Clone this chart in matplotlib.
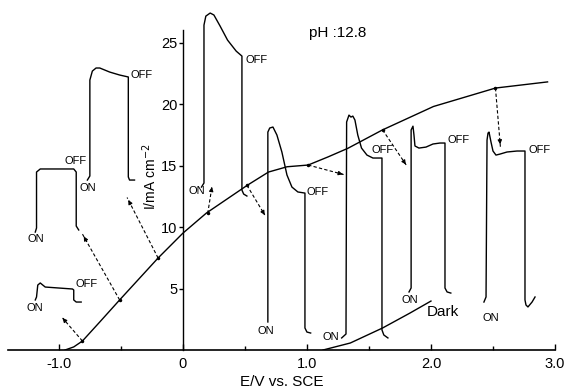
import matplotlib
matplotlib.use('Agg')
import matplotlib.pyplot as plt
import numpy as np

plt.rcParams['font.family'] = ['Liberation Sans', 'DejaVu Sans']
plt.rcParams['axes.unicode_minus'] = False

# photocurrent curve (under illumination) and dark current
curve_x = [-0.95, -0.88, -0.81, -0.67, -0.51, -0.2, 0.0, 0.19, 0.52, 0.69, 0.84, 1.01, 1.17, 1.33, 1.61, 2.02, 2.52, 2.94]
curve_y = [0.0, 0.25, 0.73, 2.28, 4.07, 7.48, 9.5, 11.14, 13.4, 14.47, 14.9, 15.04, 15.7, 16.4, 17.9, 19.8, 21.3, 21.8]
dark_x = [1.13, 1.35, 1.61, 1.83, 2.0]
dark_y = [0.0, 0.57, 1.79, 3.0, 3.98]

# ON/OFF transients (sketched at their positions)
trace_a_x = [-1.19, -1.18, -1.17, -1.15, -1.11, -0.89, -0.88, -0.88, -0.86, -0.82]
trace_a_y = [4.07, 4.31, 5.28, 5.45, 5.12, 4.96, 4.88, 4.07, 3.90, 3.90]
trace_b_x = [-1.19, -1.18, -1.18, -1.15, -0.88, -0.86, -0.86, -0.84]
trace_b_y = [9.59, 9.92, 14.47, 14.72, 14.72, 14.47, 10.08, 9.76]
trace_c_x = [-0.77, -0.75, -0.75, -0.73, -0.70, -0.67, -0.59, -0.51, -0.44, -0.44, -0.43, -0.39]
trace_c_y = [13.82, 14.15, 21.95, 22.68, 22.93, 22.93, 22.60, 22.36, 22.20, 14.07, 13.82, 13.82]
trace_d_x = [0.15, 0.17, 0.17, 0.185, 0.22, 0.25, 0.30, 0.36, 0.43, 0.476, 0.476, 0.49, 0.516]
trace_d_y = [13.25, 13.58, 26.42, 27.15, 27.40, 27.24, 26.34, 25.20, 24.30, 23.90, 13.00, 12.68, 12.52]
trace_e_x = [0.685, 0.685, 0.70, 0.726, 0.758, 0.798, 0.839, 0.879, 0.927, 0.984, 0.984, 1.0, 1.03]
trace_e_y = [2.28, 17.72, 18.05, 18.13, 17.48, 16.10, 14.23, 13.25, 12.85, 12.76, 1.79, 1.46, 1.38]
trace_f_x = [1.28, 1.315, 1.32, 1.339, 1.355, 1.37, 1.387, 1.41, 1.44, 1.484, 1.532, 1.605, 1.605, 1.62, 1.653]
trace_f_y = [0.98, 1.30, 18.54, 19.10, 18.94, 19.02, 18.70, 17.48, 16.42, 15.85, 15.61, 15.61, 1.63, 1.22, 0.98]
trace_g_x = [1.823, 1.84, 1.84, 1.855, 1.863, 1.871, 1.903, 1.96, 2.016, 2.073, 2.113, 2.113, 2.13, 2.16]
trace_g_y = [4.72, 5.04, 17.89, 18.20, 17.48, 16.59, 16.42, 16.50, 16.75, 16.83, 16.83, 5.04, 4.72, 4.63]
trace_h_x = [2.427, 2.444, 2.452, 2.46, 2.468, 2.484, 2.50, 2.524, 2.556, 2.613, 2.694, 2.758, 2.758, 2.766, 2.782, 2.815, 2.839]
trace_h_y = [3.90, 4.31, 17.07, 17.64, 17.72, 16.91, 16.18, 15.85, 15.93, 16.10, 16.18, 16.18, 4.07, 3.66, 3.50, 3.90, 4.31]

traces = [(trace_a_x, trace_a_y), (trace_b_x, trace_b_y), (trace_c_x, trace_c_y),
          (trace_d_x, trace_d_y), (trace_e_x, trace_e_y), (trace_f_x, trace_f_y),
          (trace_g_x, trace_g_y), (trace_h_x, trace_h_y)]

on_x = [-1.19, -1.185, -0.766, 0.113, 0.669, 1.194, 1.831, 2.484]
on_y = [3.41, 9.02, 13.17, 12.93, 1.54, 1.06, 4.07, 2.6]
off_x = [-0.774, -0.863, -0.331, 0.597, 1.089, 1.613, 2.226, 2.879]
off_y = [5.37, 15.37, 22.36, 23.58, 12.85, 16.26, 17.07, 16.26]

# dashed arrows: from curve point to transient
arrow_from_x = [-0.81, -0.51, -0.2, 0.20, 0.516, 1.01, 1.61, 2.52]
arrow_from_y = [0.73, 4.07, 7.48, 11.1, 13.4, 15.04, 17.9, 21.3]
arrow_to_x = [-0.97, -0.81, -0.45, 0.234, 0.66, 1.31, 1.81, 2.56]
arrow_to_y = [2.6, 9.43, 12.4, 13.25, 10.98, 14.23, 14.9, 16.5]

fig = plt.figure(figsize=(5.66, 3.90), dpi=100)
ax = fig.add_axes([8/566, 40/390, 547/566, 350/390])
ax.set_xlim(-1.41, 3.0)
ax.set_ylim(0, 28.46)

ax.plot(curve_x, curve_y, color='k', lw=1.0)
ax.plot(dark_x, dark_y, color='k', lw=1.0)
for tx, ty in traces:
    ax.plot(tx, ty, color='k', lw=1.0, solid_joinstyle='round')

for i in range(len(on_x)):
    ax.text(on_x[i], on_y[i], 'ON', fontsize=8, ha='center', va='center')
    ax.text(off_x[i], off_y[i], 'OFF', fontsize=8, ha='center', va='center')

for x0, y0, x1, y1 in zip(arrow_from_x, arrow_from_y, arrow_to_x, arrow_to_y):
    ax.plot([x0, x1], [y0, y1], color='k', lw=0.8, ls=(0, (3, 2)))
    ax.plot([x0], [y0], 'o', color='k', ms=1.5)
    ax.annotate('', xy=(x1, y1), xytext=(x1 - 0.15 * (x1 - x0), y1 - 0.15 * (y1 - y0)),
                arrowprops=dict(arrowstyle='-|>', color='k', lw=0.8, mutation_scale=6))

ax.text(1.02, 25.8, 'pH :12.8', fontsize=11, ha='left', va='center')
ax.text(1.97, 3.1, 'Dark', fontsize=11, ha='left', va='center')
ax.text(-0.27, 14.1, 'I/mA cm$^{-2}$', fontsize=10, rotation=90, ha='center', va='center')

for s in ['top', 'right']:
    ax.spines[s].set_visible(False)
ax.spines['left'].set_position(('data', 0))
ax.spines['left'].set_bounds(0, 26)
ax.spines['bottom'].set_linewidth(1.2)
ax.spines['left'].set_linewidth(1.0)

ax.set_xticks([-1, 0, 1, 2, 3])
ax.set_xticklabels(['-1.0', '0', '1.0', '2.0', '3.0'], fontsize=10.5)
ax.set_xticks([-0.5, 0.5, 1.5, 2.5], minor=True)
ax.tick_params(axis='x', which='major', direction='in', length=4, width=1, pad=5)
ax.tick_params(axis='x', which='minor', direction='in', length=3, width=1)
ax.set_yticks([5, 10, 15, 20, 25])
ax.set_yticklabels(['5', '10', '15', '20', '25'], fontsize=10.5)
ax.tick_params(axis='y', direction='out', length=3, width=1, pad=1)
ax.set_xlabel('E/V vs. SCE', fontsize=11, labelpad=3)

fig.savefig('out.png', dpi=100)
